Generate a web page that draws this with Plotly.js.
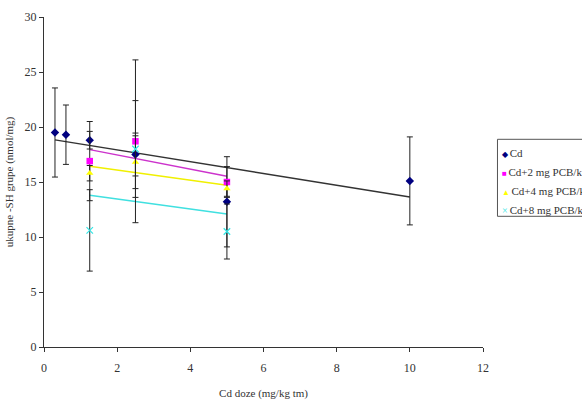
<!DOCTYPE html>
<html>
<head>
<meta charset="utf-8">
<script src="https://cdn.plot.ly/plotly-3.0.1.min.js"></script>
<style>html,body{margin:0;padding:0;background:#fff;overflow:hidden;}#chart{width:582px;height:403px;}</style>
</head>
<body>
<div id="chart"></div>
<script>
// Data
const seriesNames = ["Cd", "Cd+2 mg PCB/kg tm", "Cd+4 mg PCB/kg tm", "Cd+8 mg PCB/kg tm"];

const cdX = [0.3, 0.6, 1.25, 2.5, 5, 10];
const cdY = [19.5, 19.3, 18.8, 17.5, 13.2, 15.1];
const cdErr = [4.05, 2.7, 0.8, 1.95, 4.1, 4.0];

const pcb2X = [1.25, 2.5, 5];
const pcb2Y = [16.9, 18.7, 15.0];
const pcb2Err = [3.6, 7.4, 1.4];

const pcb4X = [1.25, 2.5, 5];
const pcb4Y = [15.8, 16.8, 14.4];
const pcb4Err = [0.7, 2.4, 0.7];

const pcb8X = [1.25, 2.5, 5];
const pcb8Y = [10.6, 18.0, 10.5];
const pcb8Err = [3.7, 4.4, 2.5];

const xTicks = [0, 2, 4, 6, 8, 10, 12];
const yTicks = [0, 5, 10, 15, 20, 25, 30];

const colors = ["#000080", "#ff00ff", "#ffff00", "#33e6e6"];
const lineColors = ["#333333", "#cc33cc", "#f0f000", "#40e0e0"];
const symbols = ["diamond", "square", "triangle-up", "x-thin-open"];
const legendGlyphs = ["\u25C6", "\u25A0", "\u25B2", "\u00D7"];

// least-squares linear trendline (as the spreadsheet trendline)
function trend(xs, ys) {
  const n = xs.length;
  const mx = xs.reduce((a, b) => a + b, 0) / n;
  const my = ys.reduce((a, b) => a + b, 0) / n;
  let sxy = 0, sxx = 0;
  for (let i = 0; i < n; i++) { sxy += (xs[i] - mx) * (ys[i] - my); sxx += (xs[i] - mx) ** 2; }
  const b = sxy / sxx, a = my - b * mx;
  const x0 = Math.min(...xs), x1 = Math.max(...xs);
  return { x: [x0, x1], y: [a + b * x0, a + b * x1] };
}

const allX = [cdX, pcb2X, pcb4X, pcb8X];
const allY = [cdY, pcb2Y, pcb4Y, pcb8Y];
const allE = [cdErr, pcb2Err, pcb4Err, pcb8Err];

const traces = [];
for (let i = 0; i < 4; i++) {
  const t = trend(allX[i], allY[i]);
  traces.push({ x: t.x, y: t.y, mode: "lines", showlegend: false, hoverinfo: "skip",
    line: { color: lineColors[i], width: 1.5 } });
}
for (let i = 0; i < 4; i++) {
  traces.push({
    x: allX[i], y: allY[i], name: seriesNames[i], mode: "markers", showlegend: false,
    marker: { symbol: symbols[i], color: colors[i], size: 6.5,
      line: { color: colors[i], width: i === 3 ? 1.2 : 0 } },
    error_y: { type: "data", array: allE[i], visible: true, color: "#222222", thickness: 1, width: 3 }
  });
}

const ff = "Liberation Serif, DejaVu Serif, serif";
const W = 582, H = 403;
const M = { l: 43.5, r: 99, t: 16.7, b: 56.3 };
const pw = W - M.l - M.r, ph = H - M.t - M.b;
const px2x = p => (p - M.l) / pw;
const px2y = p => (H - M.b - p) / ph;

// legend (box + entries), positioned like the reference, which is cut at the right edge
const shapes = [{ type: "rect", xref: "paper", yref: "paper",
  x0: px2x(497.5), x1: px2x(640), y0: px2y(216), y1: px2y(139),
  line: { color: "#555555", width: 1 }, fillcolor: "#ffffff", layer: "above" }];
const annotations = seriesNames.map((nm, i) => ({
  xref: "paper", yref: "paper", x: px2x(500), y: px2y(153 + i * 19),
  xanchor: "left", yanchor: "middle", showarrow: false, align: "left",
  text: '<span style="color:' + colors[i] + ';font-size:' + (i === 3 ? 10 : 8) + 'px">' + legendGlyphs[i] + '\u2009</span>' + nm,
  font: { family: ff, size: 11, color: "#333333" }
}));

const layout = {
  width: W, height: H,
  margin: { l: M.l, r: M.r, t: M.t, b: M.b, autoexpand: false },
  paper_bgcolor: "#ffffff", plot_bgcolor: "#ffffff",
  font: { family: ff, color: "#333333", size: 11 },
  showlegend: false,
  shapes: shapes,
  annotations: annotations,
  xaxis: {
    range: [0, 12], tickvals: xTicks, ticktext: xTicks.map(String),
    showgrid: false, zeroline: false, showline: true, linecolor: "#333333", linewidth: 1,
    ticks: "outside", ticklen: 4, tickcolor: "#333333", ticklabelstandoff: 6,
    tickfont: { family: ff, size: 12, color: "#333333" },
    title: { text: "Cd doze (mg/kg tm)", font: { family: ff, size: 11, color: "#333333" }, standoff: 14 }
  },
  yaxis: {
    range: [0, 30], tickvals: yTicks, ticktext: yTicks.map(String),
    showgrid: false, zeroline: false, showline: true, linecolor: "#333333", linewidth: 1,
    ticks: "outside", ticklen: 4, tickcolor: "#333333",
    tickfont: { family: ff, size: 12, color: "#333333" },
    title: { text: "ukupne -SH grupe (nmol/mg)", font: { family: ff, size: 11, color: "#333333" }, standoff: 8 }
  }
};

Plotly.newPlot("chart", traces, layout, { displayModeBar: false, staticPlot: true });
</script>
</body>
</html>
